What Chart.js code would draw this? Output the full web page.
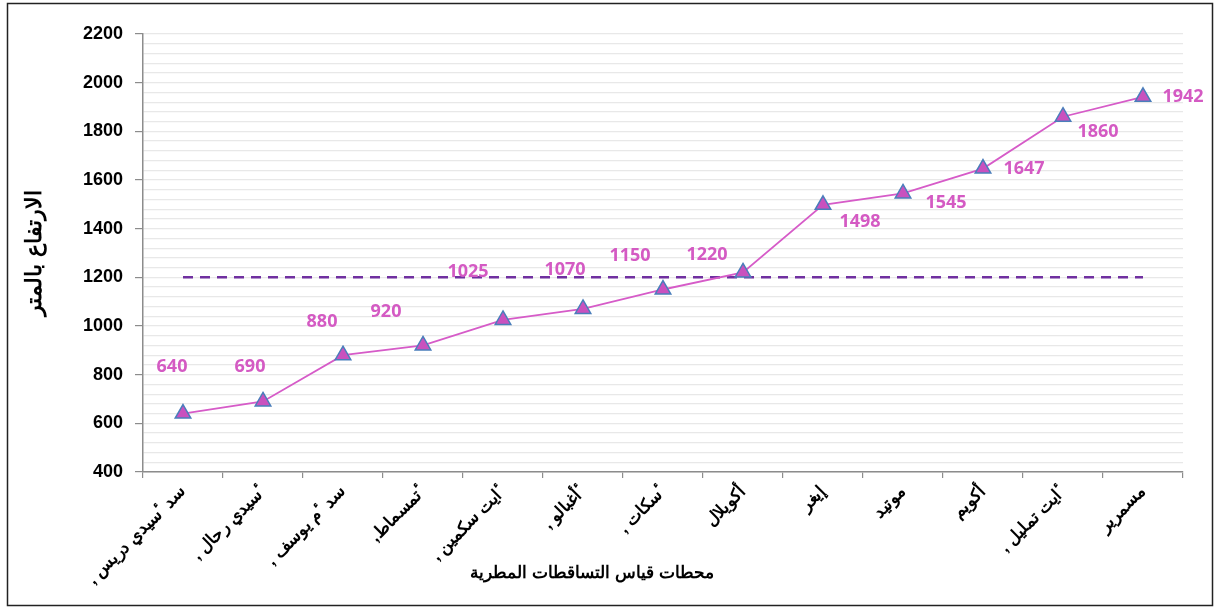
<!DOCTYPE html>
<html><head><meta charset="utf-8">
<script src="https://cdn.jsdelivr.net/npm/chart.js@4"></script>
<style>html,body{margin:0;padding:0;background:#fff;}#wrap{width:1216px;height:608px;position:relative;}</style>
</head><body><div id="wrap"><canvas id="c" width="1216" height="608"></canvas></div>
<script>
const RLM = '\u200F';
const stations = ["سد ٴسيدي دريس ,", "ٴسيدي رحال ,", "سد ٴم يوسف ,", "ٴتمسماط,", "ٴايت سكمين ,", "ٴأغبالو ,", "ٴسكات ,", "أكويلال", "إيغر", "موتيد", "أكويم", "ٴايت تمليل ,", "مسمرير"];
const altitudes = [640, 690, 880, 920, 1025, 1070, 1150, 1220, 1498, 1545, 1647, 1860, 1942];
const reference = [1200, 1200, 1200, 1200, 1200, 1200, 1200, 1200, 1200, 1200, 1200, 1200, 1200];
const yTitle = "الارتفاع بالمتر";
const xTitle = "محطات قياس التساقطات المطرية";
const yMin = 400, yMax = 2200, yMajor = 200, yMinor = 40;

const labelOffsets = [[-11,-47],[-13,-35],[-21,-33],[-37,-34],[-35,-48],[-18,-39],[-33,-34],[-36,-18],[37,17],[43,9],[41,0],[35,15],[40,0]];
const LINE = '#D65BC8';
const LABEL = '#D45AC3';

const labelsPlugin = {
  id: 'valLabels',
  afterDatasetsDraw(chart) {
    const ctx = chart.ctx;
    const meta = chart.getDatasetMeta(0);
    ctx.save();
    ctx.font = 'bold 18px "Open Sans", "Liberation Sans", Arial, sans-serif';
    ctx.fillStyle = LABEL;
    ctx.textAlign = 'center';
    ctx.textBaseline = 'middle';
    meta.data.forEach((pt, i) => {
      const o = labelOffsets[i];
      ctx.fillText(String(altitudes[i]), pt.x + o[0], pt.y + o[1]);
    });
    ctx.restore();
  }
};
const decorPlugin = {
  id: 'decor',
  afterDraw(chart) {
    const ctx = chart.ctx;
    ctx.save();
    ctx.strokeStyle = '#222';
    ctx.lineWidth = 1.5;
    ctx.strokeRect(7.5, 3.5, 1205, 602);
    ctx.font = 'bold 17px "Liberation Sans", Arial, sans-serif';
    ctx.fillStyle = '#000';
    ctx.textAlign = 'center';
    ctx.textBaseline = 'middle';
    ctx.fillText(xTitle, 592, 573);
    ctx.restore();
  }
};

new Chart(document.getElementById('c'), {
  type: 'line',
  data: {
    labels: stations.map(s => s + RLM),
    datasets: [{
      data: altitudes,
      borderColor: LINE,
      borderWidth: 1.8,
      pointStyle: 'triangle',
      pointRadius: 9,
      pointHoverRadius: 9,
      pointBackgroundColor: '#C951BE',
      pointBorderColor: '#4A7EBB',
      pointBorderWidth: 1.5,
      tension: 0
    }, {
      data: reference,
      borderColor: '#7030A0',
      borderWidth: 2.5,
      borderDash: [10, 7],
      pointRadius: 0,
      pointHoverRadius: 0
    }]
  },
  options: {
    responsive: false,
    animation: false,
    events: [],
    layout: { padding: { left: 8, right: 33, top: 34, bottom: 22 } },
    plugins: { legend: { display: false }, tooltip: { enabled: false } },
    scales: {
      x: {
        offset: true,
        grid: { offset: true, drawOnChartArea: false, color: '#8c8c8c', tickLength: 6, lineWidth: 1.2 },
        border: { color: '#8c8c8c', width: 1.5 },
        ticks: { color: '#000', font: { family: '"Liberation Sans", Arial, sans-serif', size: 17, weight: 'bold' }, minRotation: 45, maxRotation: 45, autoSkip: false, padding: 4 },
        afterFit(s) { s.height = 114; }
      },
      y: {
        min: yMin, max: yMax,
        ticks: {
          stepSize: yMinor, autoSkip: false, padding: 12,
          color: '#000',
          font: { family: '"Liberation Sans", Arial, sans-serif', size: 18, weight: 'bold' },
          callback: v => (v % yMajor === 0 ? String(v) : '')
        },
        grid: {
          color: '#e8e8e8', lineWidth: 1.2, tickLength: 8,
          tickColor: c => (c.tick && c.tick.value % yMajor === 0 ? '#8c8c8c' : 'rgba(0,0,0,0)')
        },
        border: { color: '#8c8c8c', width: 1.5 },
        title: { display: true, text: yTitle, color: '#000', font: { family: '"Liberation Sans", Arial, sans-serif', size: 22, weight: 'bold' }, padding: { top: 14, bottom: 4 } },
        afterFit(s) { s.width = 135; }
      }
    }
  },
  plugins: [labelsPlugin, decorPlugin]
});
</script></body></html>
